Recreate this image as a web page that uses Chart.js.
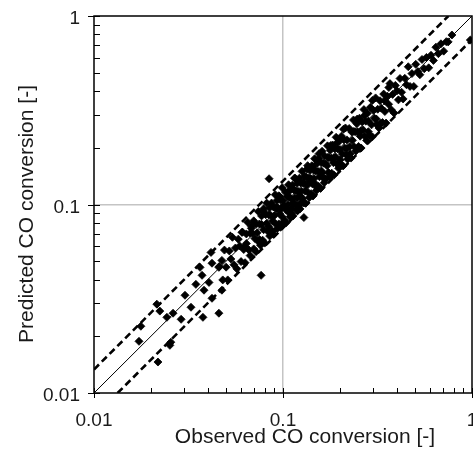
<!DOCTYPE html>
<html>
<head>
<meta charset="utf-8">
<script src="https://cdn.jsdelivr.net/npm/chart.js@4"></script>
<style>
  html, body { margin: 0; padding: 0; background: #fff; overflow: hidden; }
  #wrap { position: absolute; left: 0; top: 0; width: 500px; height: 466px; }
</style>
</head>
<body>
<div id="wrap"><canvas id="chart" width="500" height="466"></canvas></div>
<script>
// Observed vs predicted CO conversion (parity plot)
const obsX = [
    0.0173, 0.0177, 0.0218, 0.0252, 0.0255, 0.0215, 0.0223, 0.0243, 0.0262, 0.0289, 0.0303, 0.0326, 0.0377,
    0.0458, 0.0364, 0.0346, 0.0373, 0.0382, 0.0406, 0.0416, 0.0421, 0.0458, 0.0475, 0.0475, 0.0421,
    0.046, 0.048, 0.049, 0.050, 0.051, 0.052, 0.053, 0.054, 0.055, 0.056, 0.057, 0.058, 0.059, 0.060, 0.0607,
    0.061, 0.062, 0.063, 0.064, 0.064, 0.065, 0.066, 0.067, 0.067, 0.068, 0.069, 0.070, 0.070, 0.071,
    0.072, 0.072, 0.073, 0.074, 0.075, 0.075, 0.076, 0.0766, 0.077, 0.077, 0.078, 0.079, 0.079, 0.080,
    0.081, 0.082, 0.082, 0.083, 0.0844, 0.084, 0.085, 0.085, 0.086, 0.087, 0.087, 0.088, 0.089, 0.089, 0.090,
    0.091, 0.091, 0.092, 0.093, 0.093, 0.094, 0.095, 0.095, 0.096, 0.097, 0.097, 0.098, 0.099, 0.099, 0.100, 0.100,
    0.101, 0.102, 0.103, 0.104, 0.104, 0.105, 0.106, 0.107, 0.107, 0.108, 0.109, 0.110, 0.110, 0.111, 0.112,
    0.113, 0.113, 0.114, 0.115, 0.116, 0.117, 0.117, 0.118, 0.119, 0.120, 0.121, 0.122, 0.123, 0.123, 0.124,
    0.125, 0.126, 0.127, 0.128, 0.129, 0.129, 0.130,
    0.131, 0.132, 0.133, 0.134, 0.135, 0.136, 0.137, 0.138, 0.139, 0.140, 0.141, 0.142, 0.143, 0.144, 0.145,
    0.146, 0.147, 0.148, 0.149, 0.150, 0.152, 0.153, 0.154, 0.155, 0.156, 0.158, 0.159, 0.160, 0.161, 0.163,
    0.164, 0.165, 0.166, 0.168, 0.169,
    0.171, 0.172, 0.174, 0.175, 0.177, 0.178, 0.180, 0.181, 0.183, 0.185, 0.186, 0.188, 0.190, 0.191, 0.193,
    0.195, 0.197, 0.199, 0.200, 0.202, 0.204, 0.206, 0.208, 0.210, 0.212, 0.214, 0.216, 0.218, 0.220,
    0.222, 0.224, 0.226, 0.229, 0.231, 0.233, 0.236, 0.238, 0.241, 0.243, 0.246, 0.248, 0.251, 0.254, 0.256,
    0.259, 0.262, 0.265, 0.268, 0.271, 0.274, 0.277, 0.280, 0.283, 0.287, 0.290, 0.294, 0.297,
    0.301, 0.305, 0.309, 0.313, 0.317, 0.322, 0.326, 0.331, 0.336, 0.341, 0.346, 0.351, 0.357, 0.362, 0.368,
    0.374, 0.380, 0.387, 0.393,
    0.401, 0.408, 0.416, 0.424, 0.432, 0.441, 0.450, 0.460, 0.470, 0.481, 0.492, 0.504, 0.517, 0.530, 0.544,
    0.559, 0.574, 0.590, 0.607, 0.625, 0.644, 0.664, 0.685, 0.708, 0.731, 0.748, 0.783, 0.980,
    0.063, 0.068, 0.074, 0.079, 0.084, 0.088, 0.092, 0.096, 0.102, 0.106, 0.111, 0.115, 0.119, 0.124, 0.128,
    0.134, 0.139, 0.144, 0.149, 0.155, 0.161, 0.167, 0.173, 0.179, 0.186, 0.193, 0.201, 0.209, 0.218, 0.227,
    0.237, 0.247, 0.258, 0.270, 0.283, 0.297, 0.312, 0.328, 0.345, 0.363
];
const predY = [
    0.0188, 0.0226, 0.0146, 0.0179, 0.0186, 0.0296, 0.0272, 0.0252, 0.0265, 0.0246, 0.0330, 0.0285, 0.0252,
    0.0265, 0.0464, 0.0377, 0.0421, 0.0351, 0.0386, 0.0557, 0.0488, 0.0464, 0.0505, 0.0351, 0.0318,
    0.0469, 0.0398, 0.0573, 0.0465, 0.0398, 0.0567, 0.0514, 0.0670, 0.0479, 0.0588, 0.0456, 0.0655, 0.0602, 0.0498, 0.0711,
    0.0714, 0.0577, 0.0491, 0.0698, 0.0621, 0.0806, 0.0574, 0.0704, 0.0536, 0.0768, 0.0704, 0.0581, 0.0819, 0.0660,
    0.0562, 0.0785, 0.0708, 0.0918, 0.0653, 0.0788, 0.0608, 0.0421, 0.0870, 0.0785, 0.0647, 0.0924, 0.0735, 0.0624,
    0.0883, 0.0795, 0.1017, 0.0722, 0.137, 0.0882, 0.0680, 0.0961, 0.0877, 0.0722, 0.1018, 0.0818, 0.0694, 0.0970, 0.0873,
    0.1128, 0.0792, 0.0966, 0.0744, 0.1051, 0.0959, 0.0789, 0.1112, 0.0893, 0.0757, 0.1057, 0.0951, 0.1228, 0.0861, 0.105, 0.080,
    0.0990, 0.0826, 0.1164, 0.0936, 0.0801, 0.1103, 0.0996, 0.1273, 0.0910, 0.1091, 0.0861, 0.1199, 0.1078, 0.0899, 0.1266,
    0.1017, 0.0870, 0.1197, 0.1081, 0.1380, 0.0995, 0.1182, 0.0932, 0.1297, 0.1176, 0.0980, 0.1379, 0.1107, 0.0947, 0.1302,
    0.1175, 0.1499, 0.1080, 0.1293, 0.1019, 0.0853, 0.1417,
    0.1179, 0.1016, 0.1397, 0.1260, 0.1607, 0.1156, 0.1384, 0.1090, 0.1515, 0.1372, 0.1142, 0.1605, 0.1287, 0.1109, 0.1523,
    0.1372, 0.1749, 0.1258, 0.1505, 0.1185, 0.1657, 0.1499, 0.1247, 0.1752, 0.1404, 0.1217, 0.1670, 0.1504, 0.1916, 0.1386,
    0.1656, 0.1304, 0.1809, 0.1646, 0.1369,
    0.1607, 0.2047, 0.1479, 0.1768, 0.1398, 0.1940, 0.1764, 0.1466, 0.2068, 0.1665, 0.1432, 0.1974, 0.1786, 0.2273, 0.1641,
    0.1970, 0.1556, 0.2169, 0.1960, 0.1636, 0.2305, 0.1854, 0.1602, 0.2205, 0.1993, 0.2547, 0.1836, 0.2202, 0.1738,
    0.1798, 0.2531, 0.2034, 0.1763, 0.2426, 0.2190, 0.2808, 0.2023, 0.2434, 0.1920, 0.2681, 0.2430, 0.2033, 0.2870, 0.2304,
    0.1994, 0.2751, 0.2491, 0.3189, 0.2304, 0.2767, 0.2188, 0.3052, 0.2773, 0.2325, 0.3277, 0.2646, 0.2287,
    0.3161, 0.2867, 0.3677, 0.2661, 0.3202, 0.2544, 0.3553, 0.3244, 0.2722, 0.3853, 0.3114, 0.2703, 0.3749, 0.3403, 0.4379,
    0.3179, 0.3838, 0.3057, 0.4284,
    0.401, 0.359, 0.466, 0.394, 0.363, 0.467, 0.432, 0.538, 0.423, 0.495, 0.423, 0.554, 0.507, 0.488, 0.588,
    0.525, 0.603, 0.531, 0.619, 0.581, 0.683, 0.631, 0.712, 0.651, 0.731, 0.729, 0.793, 0.746,
    0.0599, 0.0748, 0.0636, 0.0948, 0.0764, 0.0722, 0.0948, 0.1104, 0.0969, 0.1166, 0.0955, 0.1380, 0.1083, 0.1017, 0.1318,
    0.1541, 0.1321, 0.1584, 0.1281, 0.1860, 0.1465, 0.1369, 0.1782, 0.2059, 0.1767, 0.2123, 0.1729, 0.2508, 0.1984, 0.1861,
    0.2441, 0.2841, 0.2451, 0.2970, 0.2434, 0.3564, 0.2839, 0.2690, 0.3554, 0.4175
];

// parity line and the +/-25 % band
const parityX = [0.01, 1];
const parityY = [0.01, 1];
const upperX = [0.01, 0.75];
const upperY = [0.01333, 1];
const lowerX = [0.01333, 1];
const lowerY = [0.01, 0.75];

const tickVals = [0.01, 0.1, 1];
const minorVals = [0.02, 0.03, 0.04, 0.05, 0.06, 0.07, 0.08, 0.09, 0.2, 0.3, 0.4, 0.5, 0.6, 0.7, 0.8, 0.9];
const xTitle = 'Observed CO conversion [-]';
const yTitle = 'Predicted CO conversion [-]';

const pts = (xs, ys) => xs.map((v, i) => ({ x: v, y: ys[i] }));
const FONT = '"Liberation Sans", Arial, Helvetica, sans-serif';

// box, tick marks and axis titles
const frame = {
    id: 'frame',
    afterDraw(chart) {
        const { ctx, chartArea: a, scales } = chart;
        const x = scales.x, y = scales.y;
        ctx.save();
        ctx.strokeStyle = '#000';
        ctx.lineWidth = 1;
        ctx.beginPath();
        minorVals.forEach(v => {
            const px = Math.round(x.getPixelForValue(v)) + 0.5;
            ctx.moveTo(px, a.bottom); ctx.lineTo(px, a.bottom - 5);
            const py = Math.round(y.getPixelForValue(v)) + 0.5;
            ctx.moveTo(a.left, py); ctx.lineTo(a.left + 6, py);
        });
        tickVals.forEach(v => {
            const px = Math.round(x.getPixelForValue(v)) + 0.5;
            ctx.moveTo(px, a.bottom + 5); ctx.lineTo(px, a.bottom - 5);
            const py = Math.round(y.getPixelForValue(v)) + 0.5;
            ctx.moveTo(a.left - 6, py); ctx.lineTo(a.left + 6, py);
        });
        ctx.stroke();
        ctx.lineWidth = 1.5;
        ctx.strokeRect(a.left, a.top, a.right - a.left, a.bottom - a.top);

        ctx.fillStyle = '#1a1a1a';
        ctx.font = '21px ' + FONT;
        ctx.textAlign = 'center';
        ctx.textBaseline = 'middle';
        ctx.fillText(xTitle, 305, 437);
        ctx.translate(27, 214);
        ctx.rotate(-Math.PI / 2);
        ctx.fillText(yTitle, 0, 0);
        ctx.restore();
    }
};

const axisBase = {
    type: 'logarithmic',
    min: 0.01,
    max: 1,
    afterBuildTicks: s => { s.ticks = tickVals.map(v => ({ value: v })); },
    grid: {
        drawTicks: true,
        tickColor: 'rgba(0,0,0,0)',
        color: c => (c.tick && c.tick.value === 0.1) ? '#c4c4c4' : 'rgba(0,0,0,0)',
        lineWidth: 1.5
    },
    border: { display: false },
    ticks: {
        color: '#1a1a1a',
        font: { family: FONT, size: 19 },
        padding: 0,
        callback: v => String(v)
    }
};

new Chart(document.getElementById('chart').getContext('2d'), {
    type: 'scatter',
    data: {
        datasets: [{
            label: 'data',
            data: pts(obsX, predY),
            pointStyle: 'rectRot',
            pointRadius: 4,
            borderWidth: 0.8,
            borderColor: '#000',
            backgroundColor: '#000',
            order: 1
        }, {
            label: 'y = x',
            data: pts(parityX, parityY),
            showLine: true,
            borderColor: '#000',
            borderWidth: 1,
            pointRadius: 0,
            order: 2
        }, {
            label: '+25%',
            data: pts(upperX, upperY),
            showLine: true,
            borderColor: '#000',
            borderWidth: 2.6,
            borderDash: [7, 4],
            pointRadius: 0,
            order: 2
        }, {
            label: '-25%',
            data: pts(lowerX, lowerY),
            showLine: true,
            borderColor: '#000',
            borderWidth: 2.6,
            borderDash: [7, 4],
            pointRadius: 0,
            order: 2
        }]
    },
    options: {
        responsive: false,
        animation: false,
        layout: { padding: { top: 16, right: 28, left: 0, bottom: 0 } },
        plugins: { legend: { display: false }, tooltip: { enabled: false } },
        scales: {
            x: Object.assign({}, axisBase, {
                afterFit: s => { s.height = 73; },
                grid: Object.assign({}, axisBase.grid, { tickLength: 16 }),
                ticks: Object.assign({}, axisBase.ticks, { maxRotation: 0 })
            }),
            y: Object.assign({}, axisBase, {
                afterFit: s => { s.width = 94; },
                grid: Object.assign({}, axisBase.grid, { tickLength: 14 }),
                ticks: Object.assign({}, axisBase.ticks, { labelOffset: 3 })
            })
        }
    },
    plugins: [frame]
});
</script>
</body>
</html>
